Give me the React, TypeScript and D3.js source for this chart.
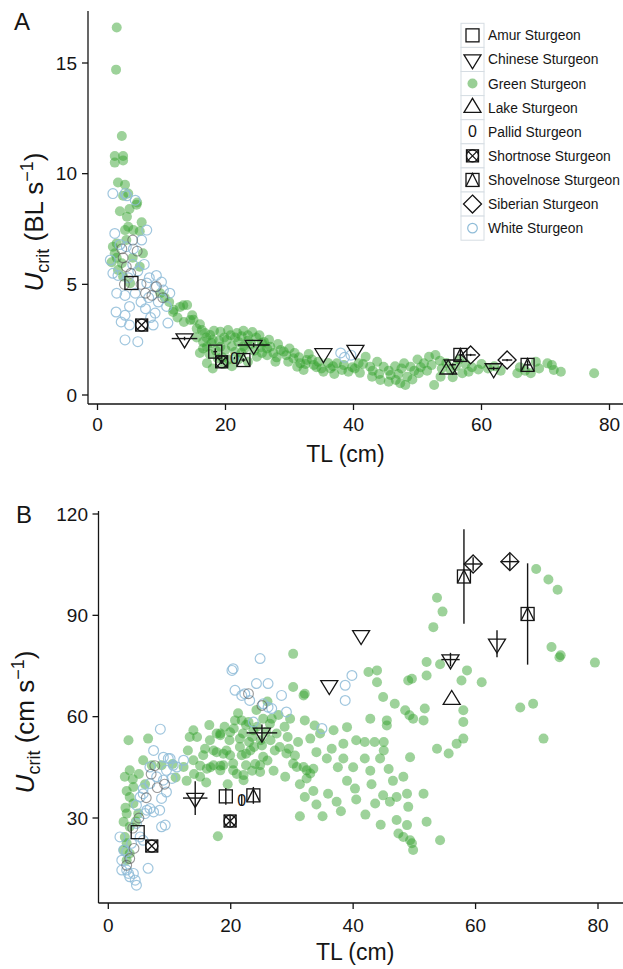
import React from "react";
import * as d3 from "d3";

const FONT = "'Liberation Sans', Arial, Helvetica, sans-serif";

const xTicks = [0, 20, 40, 60, 80];
const yTicksA = [0, 5, 10, 15];
const yTicksB = [30, 60, 90, 120];

const legendLabels = [
  "Amur Sturgeon", "Chinese Sturgeon", "Green Sturgeon", "Lake Sturgeon", "Pallid Sturgeon",
  "Shortnose Sturgeon", "Shovelnose Sturgeon", "Siberian Sturgeon", "White Sturgeon",
];
const legendShapes = ["Amur", "Chinese", "Green", "Lake", "Pallid", "Shortnose", "Shovelnose", "Siberian", "White"];

// Panel A: Green sturgeon [TL cm, Ucrit BL/s]
const greenA: [number, number][] = [
  [3.0, 16.6], [2.9, 14.7], [3.8, 11.7], [2.7, 10.8], [4.0, 10.8], [2.7, 10.5], [4.0, 10.6], [3.2, 9.6], [4.3, 9.5],
  [4.0, 9.0], [4.8, 9.1], [6.1, 8.6], [6.2, 8.7], [4.6, 8.05], [4.3, 7.45], [5.6, 7.45], [6.9, 7.8], [6.6, 7.4],
  [4.8, 7.6], [3.0, 6.85], [2.4, 6.7], [2.7, 6.4], [3.8, 5.95], [7.1, 6.4], [6.6, 5.8], [3.2, 5.65], [4.0, 5.35],
  [5.1, 5.05], [3.0, 6.2], [2.2, 6.0], [5.5, 6.2], [4.5, 7.0], [3.5, 8.3], [5.0, 8.4],
  [11.2, 4.2], [11.9, 3.85], [12.9, 3.98], [13.4, 4.05], [14.0, 4.07], [11.8, 3.75], [14.5, 3.39], [15.0, 3.4],
  [16.0, 3.2], [12.5, 3.5], [13.5, 3.3], [15.5, 3.0], [16.3, 2.94], [17.6, 2.71], [14.8, 3.6], [10.5, 4.4], [9.8, 4.6],
  [19.2, 2.86], [20.4, 2.94], [21.8, 2.8], [22.5, 2.65], [23.5, 2.7], [24.8, 2.6], [17.1, 2.18], [16.0, 1.9],
  [17.1, 1.44], [19.2, 2.18], [20.2, 2.48], [25.7, 2.35], [25.7, 1.9], [24.9, 1.73], [18.0, 2.5], [18.5, 2.0],
  [19.5, 1.7], [21.0, 2.2], [22.0, 2.4], [22.5, 1.9], [23.0, 2.1], [24.0, 2.3], [26.5, 2.1], [20.5, 1.6],
  [18.0, 1.2], [21.0, 1.3], [17.0, 2.6], [16.5, 2.4], [21.5, 2.6], [23.5, 2.45], [26.0, 2.4],
  [15.5, 2.6], [16.8, 2.8], [18.2, 2.9], [19.8, 2.6], [20.8, 2.7], [22.8, 2.9], [24.2, 2.85], [25.3, 2.7],
  [26.8, 2.5], [17.8, 2.35], [19.0, 2.45], [20.0, 2.05], [21.5, 1.95], [22.8, 2.2], [24.5, 2.0], [25.5, 2.15],
  [26.5, 1.8], [19.8, 1.4], [22.0, 1.6], [23.5, 1.5], [18.8, 1.65], [17.5, 1.85], [16.5, 2.1],
  [27.0, 2.18], [28.6, 2.03], [28.0, 1.7], [29.1, 1.96], [30.6, 1.66], [31.7, 1.43], [32.7, 1.58], [33.8, 1.36],
  [31.2, 1.28], [32.2, 1.13], [29.5, 1.8], [34.5, 1.5], [30.0, 2.1], [33.0, 1.85], [35.0, 1.2],
  [27.5, 1.9], [28.2, 2.3], [27.8, 1.5], [29.8, 1.5], [30.8, 1.9], [31.5, 1.7], [32.5, 1.4], [33.5, 1.6], [34.2, 1.25],
  [35.3, 1.05], [36.4, 1.2], [37.4, 1.43], [38.2, 1.13], [39.2, 1.05], [40.8, 1.43], [41.9, 1.73], [42.6, 1.28],
  [43.7, 1.5], [44.7, 1.28], [42.9, 0.83], [44.2, 0.68], [45.5, 0.6], [46.6, 0.68], [47.3, 0.53], [48.1, 0.45],
  [48.4, 0.83], [47.9, 1.43], [48.9, 1.28], [50.2, 0.98], [51.0, 1.43], [51.8, 1.73], [52.8, 1.81], [52.6, 0.45],
  [53.6, 0.83], [55.2, 1.13], [57.0, 0.98], [45.5, 1.1], [46.5, 1.3], [49.5, 1.1], [50.0, 1.6], [53.5, 1.55],
  [54.5, 1.45], [56.0, 1.3], [57.5, 1.4], [58.5, 1.25], [39.8, 1.25], [41.0, 1.0], [37.0, 0.95],
  [36.0, 1.45], [36.8, 1.3], [38.5, 1.35], [40.2, 1.2], [41.5, 1.4], [43.0, 1.1], [44.0, 0.95], [45.8, 0.9],
  [47.0, 0.95], [47.5, 1.2], [49.2, 0.7], [50.5, 1.25], [51.5, 1.1], [52.2, 1.35], [53.8, 1.2], [55.5, 0.8],
  [56.5, 1.6], [58.0, 1.05], [59.5, 1.15],
  [61.0, 1.2], [63.0, 1.1], [65.6, 0.98], [67.7, 0.98], [66.0, 1.25], [68.5, 1.5], [70.3, 1.43], [71.3, 1.13],
  [72.4, 1.05], [77.6, 0.98], [60.0, 1.4], [69.0, 1.2], [62.0, 1.3], [66.8, 1.1], [71.0, 1.35],
];

// Panel A: White sturgeon [TL, BL/s]
const whiteA: [number, number][] = [
  [4.3, 9.1], [5.9, 8.8], [2.4, 9.1], [4.6, 9.0], [2.7, 7.3], [7.7, 7.45], [6.9, 7.0], [3.5, 6.8], [4.5, 6.7],
  [5.6, 6.6], [2.0, 6.1], [5.5, 5.9], [6.3, 5.6], [2.4, 5.5], [3.2, 5.4], [4.8, 5.3], [7.7, 5.06], [9.0, 4.88],
  [10.3, 4.74], [11.3, 4.6], [3.0, 4.6], [4.3, 4.5], [5.9, 4.6], [8.0, 4.4], [9.5, 4.2], [10.8, 4.0], [2.9, 3.75],
  [4.3, 3.6], [7.5, 3.9], [9.0, 3.7], [3.7, 3.3], [5.0, 3.16], [8.7, 3.16], [11.0, 3.25], [4.3, 2.49], [6.3, 2.41],
  [7.3, 5.9], [8.1, 5.3], [9.2, 5.4], [10.0, 5.1], [6.8, 4.2], [8.3, 3.5], [5.0, 4.0],
  [38.0, 1.9], [38.6, 1.7], [39.6, 1.8],
];
const whiteDarkA: [number, number][] = [
  [4.0, 6.2], [4.5, 5.8], [5.2, 5.5], [4.2, 5.0], [6.8, 5.0], [7.5, 4.6], [8.5, 4.5], [9.2, 4.9], [10.2, 4.4],
  [5.5, 7.0], [3.8, 6.6], [6.2, 6.5],
];

// Panel A species means: [shape, TL, U, TL sd, U sd]
const meansA: [string, number, number, number, number][] = [
  ["Amur", 5.3, 5.06, 0, 0], ["Amur", 18.4, 1.96, 0.3, 0.15], ["Pallid", 21.4, 1.67, 0, 0.05],
  ["Shortnose", 6.9, 3.16, 0, 0], ["Shortnose", 19.4, 1.5, 0.3, 0.1],
  ["Shovelnose", 22.8, 1.58, 0.3, 0.08], ["Shovelnose", 56.7, 1.81, 0.3, 0.25], ["Shovelnose", 67.2, 1.36, 0.5, 0.2],
  ["Chinese", 13.6, 2.55, 2.0, 0.08], ["Chinese", 24.4, 2.26, 2.5, 0.1], ["Chinese", 35.3, 1.88, 0, 0],
  ["Chinese", 40.3, 2.03, 0, 0], ["Chinese", 55.5, 1.37, 0.5, 0.05], ["Chinese", 61.9, 1.2, 0.8, 0.08],
  ["Lake", 54.8, 1.16, 0, 0], ["Siberian", 58.3, 1.81, 0.8, 0.05], ["Siberian", 64.0, 1.58, 0.8, 0.05],
];

// Panel B: Green sturgeon [TL, Ucrit cm/s]
const greenB: [number, number][] = [
  [3.3, 53], [6.5, 53.5], [5.7, 47.1], [7.1, 45.6], [8.7, 45.6], [3.5, 44.1], [2.7, 42.2], [4.1, 39.2], [3.5, 36.2],
  [4.1, 34.3], [4.9, 31.3], [3.0, 31.3], [2.5, 28.9], [3.5, 27.4], [2.7, 24.4], [3.0, 22.5], [3.5, 19.5], [3.0, 17.5],
  [4.0, 41.5], [5.0, 43], [3.0, 38], [4.5, 29], [2.8, 33], [6.0, 40], [2.5, 20.5],
  [13.9, 56], [12.3, 45.1], [13.9, 47.1], [15.5, 48.6], [17.2, 50], [17.2, 45.6], [18.8, 45.6], [20.4, 46.1],
  [14.5, 54], [17.7, 55], [19.9, 55.4], [18.3, 55], [19.8, 53], [21.5, 53.5], [23.0, 52.5], [24.9, 53],
  [20.7, 58.9], [21.8, 58.9], [22.9, 58.4], [23.7, 56], [25.3, 59.4], [26.4, 57.9], [26.7, 59.4], [15.8, 50.5],
  [17.7, 49.5], [19.3, 50], [21.5, 51], [23.2, 50], [25.1, 51.5], [15.0, 45.5], [16.7, 45], [18.3, 45.5],
  [22.5, 45.6], [24.0, 46], [19.9, 48.6], [21.8, 48.6], [25.3, 48.1], [24.8, 45.6], [18.3, 44.1], [20.4, 44.1],
  [24.8, 43.6], [22.1, 41.2], [17.9, 24.6], [13.3, 54], [16.6, 53], [18.3, 54.5], [18.8, 49], [16.1, 44.6],
  [15.0, 42.2], [22.1, 42.7], [22.0, 55], [23.5, 54], [22.5, 49], [23.8, 51],
  [19.0, 57], [20.5, 56.5], [22.5, 57.5], [24.3, 57], [25.8, 55.5], [26.5, 53], [27.2, 50], [26.0, 47], [27.0, 44],
  [21.0, 43], [23.5, 44], [19.5, 40], [16.0, 40.5], [14.0, 43], [12.8, 41], [11.0, 42], [10.5, 46], [13.0, 50],
  [16.5, 57.5], [21.2, 61], [24.2, 62], [26.0, 64.5], [27.8, 60.5], [28.8, 57],
  [30.2, 78.6], [30.2, 68.8], [31.9, 66.3], [29.7, 59.4], [32.1, 58.9], [33.7, 57.4], [29.3, 54], [31.0, 52.5],
  [33.0, 53.5], [30.2, 46.1], [31.9, 45.1], [33.5, 44.6], [29.1, 49.1], [30.8, 45.1], [32.4, 44.1],
  [28.9, 42.2], [32.4, 41.7], [33.0, 43.2], [32.1, 36.2], [31.3, 40], [31.3, 30.5], [28.0, 51], [27.5, 55],
  [29.5, 50.5], [30.5, 48.5], [34.0, 49.5], [36.5, 50.5], [37.5, 45], [40.0, 45], [42.8, 44], [45.8, 44.5],
  [46.5, 41], [43.0, 40], [40.5, 35.5], [38.0, 32], [35.0, 30.5], [42.0, 31], [44.5, 28], [33.5, 38], [34.0, 34],
  [35.7, 47.6], [38.4, 47.6], [36.8, 56], [39.0, 56.9], [34.6, 55], [38.4, 52], [40.5, 53], [41.9, 52.5],
  [43.5, 52.5], [45.0, 52.5], [41.9, 47.6], [44.4, 47.6], [49.3, 48], [39.0, 41], [40.3, 38.7], [48.2, 42.2],
  [35.9, 37.2], [37.3, 34.8], [43.6, 34.3], [44.9, 36.7], [47.1, 36.2], [49.0, 33.3], [46.0, 34.8], [48.8, 37.2],
  [51.5, 37.2], [47.1, 29.4], [48.8, 27.9], [47.4, 25.4], [49.3, 23.4], [48.2, 24.4], [49.6, 22.5], [49.8, 20.5],
  [42.5, 73.2], [43.9, 73.7], [43.9, 70.2], [49.0, 70.7], [49.6, 71.2], [44.9, 65.8], [46.8, 63.8], [48.5, 61.9],
  [49.8, 59.4], [49.2, 60.4], [45.5, 58.9], [42.8, 59.4], [45.5, 57.4], [32.1, 66.8], [45.0, 50],
  [51.7, 62.4], [51.5, 58.9], [52.0, 76.2], [54.2, 75.5], [52.0, 72.2], [53.7, 95.2], [54.6, 91.1], [53.1, 86.5],
  [58.6, 73.7], [57.7, 70.7], [61.0, 70.2], [58.0, 61.9], [58.0, 58.4], [67.3, 62.7], [69.4, 63.8], [58.0, 53.5],
  [56.9, 52], [55.6, 49.1], [53.7, 50.5], [71.1, 53.5], [69.9, 103.7], [71.9, 100.6], [73.4, 97.6], [72.4, 80.6],
  [73.7, 77.6], [73.9, 78.2], [79.5, 76.0], [52.0, 28.9], [54.2, 23.4],
];

const whiteB: [number, number][] = [
  [8.5, 56.3], [7.4, 50], [9.0, 48], [10.1, 47.6], [10.6, 45.6], [9.5, 44.1], [7.9, 42.2], [6.8, 40.2], [5.7, 38.7],
  [5.2, 36.2], [4.6, 33.8], [6.3, 32.3], [7.4, 31.8], [8.7, 27.4], [5.2, 24.4], [3.8, 22.5], [3.0, 20], [2.2, 17.5],
  [3.0, 14.6], [4.1, 13.6], [4.6, 10.1], [3.5, 12.6], [6.8, 45.1], [9.0, 41.2], [10.4, 41.7], [11.2, 45.1],
  [12.3, 47.1], [9.8, 47.6], [8.7, 35.8], [9.5, 37.7], [5.7, 37.2], [6.0, 31.3], [6.8, 32.8], [8.4, 32.3],
  [9.3, 27.9], [4.6, 28.4], [5.7, 23.4], [1.9, 24.4], [2.5, 20.5], [2.2, 14.6], [3.3, 13.6], [4.4, 11.6], [6.5, 15.1],
  [20.4, 74.2], [24.8, 77.2], [20.7, 67.8], [22.3, 66.8], [23.1, 64.8], [24.2, 69.8], [26.1, 69.8], [25.3, 63.8],
  [26.7, 62.4], [28.3, 66.3], [29.1, 61.4], [23.7, 58.4], [20.2, 73.7], [21.8, 66.3], [26.1, 62.8],
  [39.8, 72.2], [38.7, 69.3], [38.7, 64.8], [34.9, 56.5],
];
const whiteDarkB: [number, number][] = [
  [7.0, 43], [8.0, 39], [6.2, 36], [9.2, 40], [5.0, 30], [4.0, 27], [3.5, 18], [3.0, 16], [22.9, 66.8], [25.1, 63.3],
  [7.6, 45.5], [4.2, 21],
];

const meansB: [string, number, number, number, number][] = [
  ["Amur", 4.8, 25.8, 0, 0], ["Amur", 19.2, 36.4, 0, 2.5], ["Pallid", 21.8, 35.3, 0, 1.5],
  ["Shortnose", 7.1, 21.7, 0, 0], ["Shortnose", 19.9, 29.1, 0, 1.5],
  ["Shovelnose", 23.7, 36.7, 0, 2.5], ["Shovelnose", 58.1, 101.5, 0, 14], ["Shovelnose", 68.5, 90.4, 0, 15],
  ["Chinese", 14.2, 35.9, 2.0, 5.0], ["Chinese", 25.1, 55.2, 2.5, 2.5], ["Chinese", 36.1, 69.3, 0, 0],
  ["Chinese", 41.3, 84.1, 0, 0], ["Chinese", 55.9, 76.9, 1.5, 2.0], ["Chinese", 63.5, 81.6, 0, 4],
  ["Lake", 56.1, 65.0, 0, 0], ["Siberian", 59.6, 105.2, 1.5, 2.0], ["Siberian", 65.6, 105.9, 1.5, 2.5],
];

const GREEN = "#33a02c";
const WHITE_C = "#8fbcd8";
const INK = "#151515";

function Marker({ shape, x, y }: { shape: string; x: number; y: number }) {
  const sw = 1.3;
  const common = { fill: "none", stroke: INK, strokeWidth: sw };
  const s = 6.5;
  if (shape === "Amur") return <rect x={x - s} y={y - s} width={2 * s} height={2 * s} {...common} />;
  if (shape === "Chinese") {
    const h = 14;
    const w = 8.5;
    return <path d={`M${x - w},${y - h / 3}L${x + w},${y - h / 3}L${x},${y + (2 * h) / 3}Z`} {...common} />;
  }
  if (shape === "Lake") {
    const h = 14;
    const w = 8.5;
    return <path d={`M${x - w},${y + h / 3}L${x + w},${y + h / 3}L${x},${y - (2 * h) / 3}Z`} {...common} />;
  }
  if (shape === "Siberian") {
    const d = 9;
    return <path d={`M${x},${y - d}L${x + d},${y}L${x},${y + d}L${x - d},${y}Z`} {...common} />;
  }
  if (shape === "Shovelnose") {
    return (
      <g {...common}>
        <rect x={x - s} y={y - s} width={2 * s} height={2 * s} />
        <path d={`M${x - s},${y + s}L${x},${y - s}L${x + s},${y + s}`} />
      </g>
    );
  }
  if (shape === "Shortnose") {
    const q = 6;
    return (
      <g {...common}>
        <rect x={x - q} y={y - q} width={2 * q} height={2 * q} />
        <circle cx={x} cy={y} r={q} />
        <path d={`M${x - q},${y - q}L${x + q},${y + q}M${x + q},${y - q}L${x - q},${y + q}`} />
      </g>
    );
  }
  if (shape === "Pallid") {
    return (
      <text x={x} y={y + 5.5} textAnchor="middle" fontSize={16} fontFamily={FONT} fill={INK}>
        0
      </text>
    );
  }
  if (shape === "Green") return <circle cx={x} cy={y} r={5} fill={GREEN} fillOpacity={0.5} />;
  if (shape === "White") return <circle cx={x} cy={y} r={4.8} fill="none" stroke={WHITE_C} strokeWidth={1.2} />;
  return null;
}

function Panel({
  x, y, green, white, whiteDark, means, yTicks, axisX, axisTop, axisBottom, labelRight, xLabelBase,
}: any) {
  return (
    <g fontFamily={FONT}>
      {green.map((d: [number, number], i: number) => (
        <circle key={"g" + i} cx={x(d[0])} cy={y(d[1])} r={5} fill={GREEN} fillOpacity={0.48} />
      ))}
      {white.map((d: [number, number], i: number) => (
        <circle key={"w" + i} cx={x(d[0])} cy={y(d[1])} r={4.9} fill="none" stroke={WHITE_C} strokeWidth={1.2} strokeOpacity={0.85} />
      ))}
      {whiteDark.map((d: [number, number], i: number) => (
        <circle key={"wd" + i} cx={x(d[0])} cy={y(d[1])} r={4.9} fill="none" stroke="#555" strokeWidth={1.1} strokeOpacity={0.6} />
      ))}
      {means.map((m: [string, number, number, number, number], i: number) => (
        <g key={"m" + i}>
          {m[3] > 0 && (
            <line x1={x(m[1] - m[3])} x2={x(m[1] + m[3])} y1={y(m[2])} y2={y(m[2])} stroke={INK} strokeWidth={1.4} />
          )}
          {m[4] > 0 && (
            <line x1={x(m[1])} x2={x(m[1])} y1={y(m[2] - m[4])} y2={y(m[2] + m[4])} stroke={INK} strokeWidth={1.4} />
          )}
          <Marker shape={m[0]} x={x(m[1])} y={y(m[2])} />
        </g>
      ))}
      <line x1={axisX} x2={axisX} y1={axisTop} y2={axisBottom} stroke={INK} strokeWidth={1.3} />
      <line x1={axisX} x2={640} y1={axisBottom} y2={axisBottom} stroke={INK} strokeWidth={1.3} />
      {yTicks.map((t: number) => (
        <g key={"yt" + t}>
          <line x1={axisX - 6} x2={axisX} y1={y(t)} y2={y(t)} stroke={INK} strokeWidth={1.3} />
          <text x={labelRight} y={y(t) + 6.5} textAnchor="end" fontSize={19} fill={INK}>
            {t}
          </text>
        </g>
      ))}
      {xTicks.map((t: number) => (
        <g key={"xt" + t}>
          <line x1={x(t)} x2={x(t)} y1={axisBottom} y2={axisBottom + 6} stroke={INK} strokeWidth={1.3} />
          <text x={x(t)} y={xLabelBase} textAnchor="middle" fontSize={19} fill={INK}>
            {t}
          </text>
        </g>
      ))}
    </g>
  );
}

export default function App() {
  const xA = d3.scaleLinear().domain([0, 80]).range([97.5, 609.5]);
  const yA = d3.scaleLinear().domain([0, 15]).range([395, 63]);
  const xB = d3.scaleLinear().domain([0, 80]).range([108.3, 598]);
  const yB = d3.scaleLinear().domain([30, 120]).range([818, 514]);

  const keyX = 461;
  const keyW = 23;
  const keyTop = 23.3;
  const keyH = 24.1;

  return (
    <svg
      width={623}
      height={969}
      style={{ position: "absolute", left: 0, top: 0, background: "#fff" }}
      fontFamily={FONT}
    >
      <rect x={0} y={0} width={623} height={969} fill="#fff" />
      <Panel
        x={xA} y={yA} green={greenA} white={whiteA} whiteDark={whiteDarkA} means={meansA}
        yTicks={yTicksA} axisX={88} axisTop={11} axisBottom={404} labelRight={77} xLabelBase={431}
      />
      <Panel
        x={xB} y={yB} green={greenB} white={whiteB} whiteDark={whiteDarkB} means={meansB}
        yTicks={yTicksB} axisX={98.5} axisTop={511} axisBottom={903} labelRight={88} xLabelBase={932}
      />
      <text x={14} y={30} fontSize={24} fill={INK}>A</text>
      <text x={16} y={523} fontSize={24} fill={INK}>B</text>
      <text x={xA(40) - 8} y={462} textAnchor="middle" fontSize={23} fill={INK}>TL (cm)</text>
      <text x={xB(40) + 2} y={960} textAnchor="middle" fontSize={23} fill={INK}>TL (cm)</text>
      <text transform="translate(43,222) rotate(-90)" textAnchor="middle" fontSize={26} fill={INK}>
        <tspan fontStyle="italic">U</tspan>
        <tspan fontSize={18} dy={6}>crit</tspan>
        <tspan dy={-6}> (BL s</tspan>
        <tspan fontSize={18} dy={-10}>−1</tspan>
        <tspan dy={10}>)</tspan>
      </text>
      <text transform="translate(34,722) rotate(-90)" textAnchor="middle" fontSize={26} fill={INK}>
        <tspan fontStyle="italic">U</tspan>
        <tspan fontSize={18} dy={6}>crit</tspan>
        <tspan dy={-6}> (cm s</tspan>
        <tspan fontSize={18} dy={-10}>−1</tspan>
        <tspan dy={10}>)</tspan>
      </text>
      {legendLabels.map((lab, i) => {
        const cy = keyTop + keyH * i + keyH / 2;
        return (
          <g key={lab}>
            <rect x={keyX} y={keyTop + keyH * i} width={keyW} height={keyH} fill="#fff" stroke="#d6dde3" strokeWidth={1} />
            <Marker shape={legendShapes[i]} x={keyX + keyW / 2} y={cy} />
            <text x={488} y={cy + 5} fontSize={13.8} fill={INK}>
              {lab}
            </text>
          </g>
        );
      })}
    </svg>
  );
}
